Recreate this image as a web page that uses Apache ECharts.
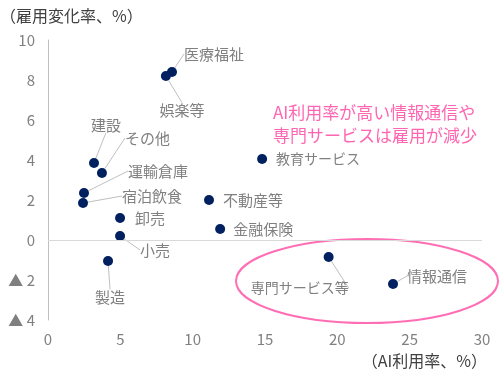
<!DOCTYPE html>
<html><head><meta charset="utf-8">
<script src="https://cdn.jsdelivr.net/npm/echarts@6/dist/echarts.min.js"></script>
<style>html,body{margin:0;padding:0;background:#fff}#c{width:504px;height:379px}</style>
</head><body><div id="c"></div>
<script>
// ---- data ----
const industries = ['医療福祉','娯楽等','建設','その他','運輸倉庫','宿泊飲食','卸売','小売','製造','不動産等','金融保険','教育サービス','専門サービス等','情報通信'];
const aiRate     = [8.57, 8.15, 3.18, 3.73, 2.49, 2.42, 4.98, 4.98, 4.15, 11.13, 11.9, 14.8, 19.4, 23.85];
const empChange  = [8.4, 8.2, 3.85, 3.35, 2.35, 1.85, 1.1, 0.2, -1.05, 2.0, 0.55, 4.05, -0.85, -2.2];
const xTicks = [0, 5, 10, 15, 20, 25, 30];
const yTicks = [-4, -2, 0, 2, 4, 6, 8, 10];
const yTitle = '（雇用変化率、%）';
const xTitle = '（AI利用率、%）';
const noteLines = ['AI利用率が高い情報通信や', '専門サービスは雇用が減少'];

// ---- label placement (style) ----
const place = {
  '医療福祉':   {ox: 12, oy: -18, align: 'left',   line: true,  fs: 15},
  '娯楽等':     {ox: 16, oy: 34,  align: 'center', line: true,  fs: 15},
  '建設':       {ox: 12, oy: -38, align: 'center', line: true,  fs: 15},
  'その他':     {ox: 23, oy: -35, align: 'left',   line: true,  fs: 15},
  '運輸倉庫':   {ox: 44, oy: -22, align: 'left',   line: true,  fs: 15},
  '宿泊飲食':   {ox: 39, oy: -7,  align: 'left',   line: true,  fs: 15},
  '卸売':       {ox: 15, oy: 0,   align: 'left',   line: false, fs: 15},
  '小売':       {ox: 20, oy: 14,  align: 'left',   line: true,  fs: 15},
  '製造':       {ox: 2,  oy: 36,  align: 'center', line: true,  fs: 15},
  '不動産等':   {ox: 14, oy: 0,   align: 'left',   line: false, fs: 15},
  '金融保険':   {ox: 13, oy: 0,   align: 'left',   line: false, fs: 15},
  '教育サービス': {ox: 14, oy: 0, align: 'left',   line: false, fs: 14},
  '専門サービス等': {ox: -29, oy: 31, align: 'center', line: true, fs: 14},
  '情報通信':   {ox: 14, oy: -8,  align: 'left',   line: true,  fs: 15}
};

const FONT = '"Noto Sans CJK JP", "Noto Sans", sans-serif';
const data = industries.map((n, i) => ({
  name: n,
  value: [aiRate[i], empChange[i]],
  label: {fontSize: place[n].fs},
  labelLine: {show: place[n].line, lineStyle: {color: '#bfbfbf', width: 1}}
}));

const chart = echarts.init(document.getElementById('c'), null, {renderer: 'canvas'});
chart.setOption({
  animation: false,
  textStyle: {fontFamily: FONT},
  title: {
    text: yTitle, left: 0, top: 8, padding: 0,
    textStyle: {fontSize: 16, fontWeight: 'normal', color: '#404040', fontFamily: FONT}
  },
  grid: {left: 48, right: 22, top: 40, bottom: 59, containLabel: false},
  xAxis: {
    type: 'value', min: xTicks[0], max: xTicks[xTicks.length - 1], interval: 5,
    axisLine: {show: false, onZero: false}, axisTick: {show: false}, splitLine: {show: false},
    axisLabel: {color: '#808080', fontSize: 15, margin: 12, fontFamily: FONT}
  },
  yAxis: {
    type: 'value', min: yTicks[0], max: yTicks[yTicks.length - 1], interval: 2,
    axisLine: {show: true, onZero: false, lineStyle: {color: '#bfbfbf', width: 1}},
    axisTick: {show: false}, splitLine: {show: false},
    axisLabel: {
      color: '#808080', fontSize: 15, margin: 13, fontFamily: FONT,
      formatter: v => v < 0 ? '▲ ' + Math.abs(v) : String(v)
    }
  },
  series: [{
    type: 'scatter',
    symbolSize: 10,
    itemStyle: {color: '#002060', opacity: 1},
    data: data,
    label: {
      show: true, formatter: '{b}', color: '#808080', fontSize: 15, fontFamily: FONT
    },
    labelLine: {show: true, lineStyle: {color: '#bfbfbf', width: 1}},
    labelLayout: function (p) {
      const pl = place[industries[p.dataIndex]];
      const cx = p.rect.x + p.rect.width / 2;
      const cy = p.rect.y + p.rect.height / 2;
      return {x: cx + pl.ox, y: cy + pl.oy, align: pl.align, verticalAlign: 'middle', hideOverlap: false};
    },
    markLine: {
      silent: true, symbol: 'none', label: {show: false},
      lineStyle: {color: '#d9d9d9', type: 'solid', width: 1},
      data: [{yAxis: 0}]
    },
    z: 3
  }],
  graphic: [
    {type: 'ellipse', shape: {cx: 367, cy: 281, rx: 131, ry: 42},
     style: {fill: 'none', stroke: '#ff6eb4', lineWidth: 2}, z: 1},
    {type: 'text', left: 273, top: 101,
     style: {text: noteLines.join('\n'), fill: '#ff66b2', fontSize: 17, lineHeight: 23, fontFamily: FONT}},
    {type: 'text', right: 17, top: 353,
     style: {text: xTitle, fill: '#404040', fontSize: 16, fontFamily: FONT}}
  ]
});
</script>
</body></html>
